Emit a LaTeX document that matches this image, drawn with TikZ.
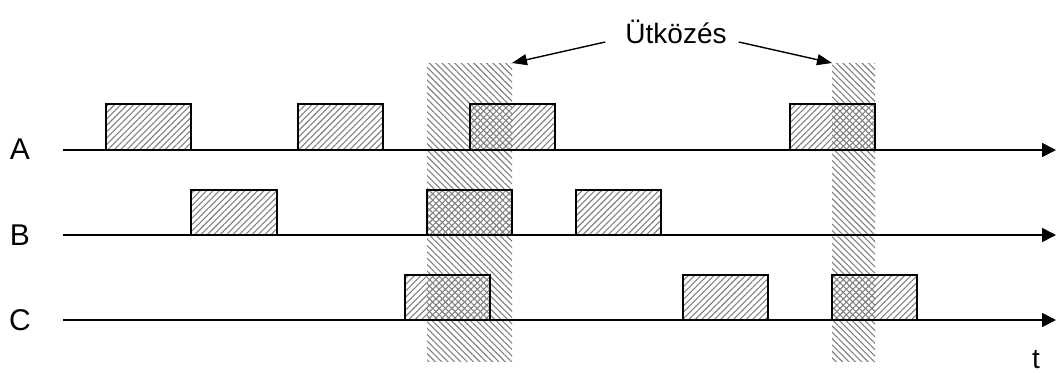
\documentclass[tikz,border=0pt]{standalone}
\usepackage{fontspec}
\setmainfont{Liberation Sans}
\usetikzlibrary{arrows.meta,patterns.meta}
\tikzset{
  axis/.style={line width=1.6pt,-{Triangle[length=14pt,width=14pt]}},
  pulse/.style={draw,line width=1.6pt,pattern={Lines[angle=45,distance=4.5pt,line width=1.1pt]},pattern color=gray},
  zone/.style={pattern={Lines[angle=-45,distance=4.5pt,line width=1.1pt]},pattern color=gray},
  lbl/.style={font=\fontsize{30}{36}\selectfont,inner sep=0pt},
  title/.style={font=\fontsize{28}{34}\selectfont,inner sep=0pt},
  pointer/.style={line width=1.4pt,-{Triangle[length=15pt,width=11pt]}}
}
\begin{document}
\begin{tikzpicture}[x=1pt,y=-1pt]
\useasboundingbox (0,0) rectangle (1057,372);
% collision zones
\fill[zone] (427,63) rectangle (512,361);
\fill[zone] (832,63) rectangle (875,361);
% station A
\draw[pulse] (106,104) rectangle (191,150);
\draw[pulse] (298,104) rectangle (383,150);
\draw[pulse] (470,104) rectangle (555,150);
\draw[pulse] (790,104) rectangle (875,150);
% station B
\draw[pulse] (191,190) rectangle (277,235);
\draw[pulse] (427,190) rectangle (512,235);
\draw[pulse] (576,190) rectangle (661,235);
% station C
\draw[pulse] (405,275) rectangle (490,320);
\draw[pulse] (683,275) rectangle (768,320);
\draw[pulse] (832,275) rectangle (917,320);
% axes
\node[lbl] (A) at (20,149) {A};
\node[lbl] (B) at (20,235) {B};
\node[lbl] (C) at (20,320) {C};
\coordinate (Aend) at (1056,150);
\coordinate (Bend) at (1056,235);
\coordinate (Cend) at (1056,320);
\draw[axis] (63,150) -- (Aend);
\draw[axis] (63,235) -- (Bend);
\draw[axis] (63,320) -- (Cend);
\node[title,anchor=base] (t) at (1036,368) {t};
% label and pointers
\node[title,anchor=base] (coll) at (676,43) {Ütközés};
\coordinate (z1) at (512,63);
\coordinate (z2) at (832,63);
\draw[pointer] (coll.base west) ++(-20,-1) -- (z1);
\draw[pointer] (coll.base east) ++(12,-1) -- (z2);
\end{tikzpicture}
\end{document}
